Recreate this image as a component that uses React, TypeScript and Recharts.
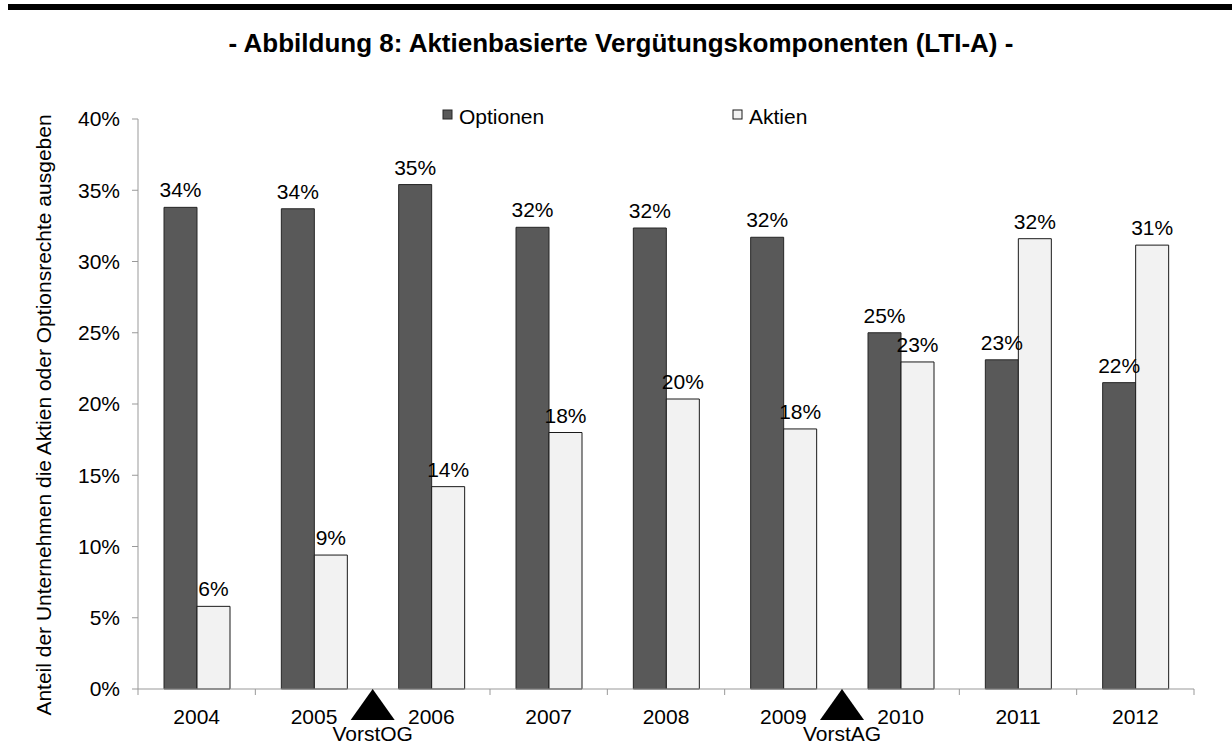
import React from "react";
import { BarChart, Bar, XAxis, YAxis, LabelList, Legend, Label } from "recharts";

// Anteil in %
const years = ["2004", "2005", "2006", "2007", "2008", "2009", "2010", "2011", "2012"];
const optionen = [33.8, 33.7, 35.4, 32.4, 32.35, 31.7, 25.0, 23.1, 21.5];
const aktien = [5.8, 9.4, 14.2, 18.0, 20.35, 18.25, 22.95, 31.6, 31.15];
const yTicks = [0, 5, 10, 15, 20, 25, 30, 35, 40];
// Gesetzesänderungen, jeweils vor dem genannten Jahr
const events = [
  { before: "2006", label: "VorstOG" },
  { before: "2010", label: "VorstAG" },
];

const series = [
  { key: "Optionen", fill: "#595959", stroke: "#262626" },
  { key: "Aktien", fill: "#f2f2f2", stroke: "#1a1a1a" },
];

const data = years.map((year, i) => ({ year, Optionen: optionen[i], Aktien: aktien[i] }));

const FONT = '"Liberation Sans", Arial, sans-serif';
const W = 1232;
const H = 756;
const PLOT_LEFT = 138;
const PLOT_RIGHT = 1194;
const BAND = (PLOT_RIGHT - PLOT_LEFT) / years.length;
const AXIS = "#999999";

function YearTick(props: any) {
  const { x, y, payload, index } = props;
  const left = x - BAND / 2;
  const ev = events.find((e) => e.before === payload.value);
  return (
    <g>
      <line x1={left} y1={y} x2={left} y2={y + 6} stroke={AXIS} />
      {index === years.length - 1 && (
        <line x1={x + BAND / 2} y1={y} x2={x + BAND / 2} y2={y + 6} stroke={AXIS} />
      )}
      <text x={x} y={y + 35} textAnchor="middle" fontSize={21} fill="#000" fontFamily={FONT}>
        {payload.value}
      </text>
      {ev && (
        <g>
          <polygon points={`${left},${y} ${left - 22},${y + 31} ${left + 22},${y + 31}`} fill="#000" />
          <text x={left} y={y + 52} textAnchor="middle" fontSize={21} fill="#000" fontFamily={FONT}>
            {ev.label}
          </text>
        </g>
      )}
    </g>
  );
}

function LegendBox() {
  const xs = [443, 733];
  return (
    <svg width={W} height={40} style={{ display: "block" }}>
      {series.map((s, i) => (
        <g key={s.key}>
          <rect x={xs[i]} y={11} width={9} height={9} fill={s.fill} stroke={s.stroke} />
          <text x={xs[i] + 16} y={25} fontSize={21} fill="#000" fontFamily={FONT}>
            {s.key}
          </text>
        </g>
      ))}
    </svg>
  );
}

function YTitle() {
  return (
    <text
      x={51}
      y={415}
      transform="rotate(-90, 51, 415)"
      textAnchor="middle"
      fontSize={21}
      fill="#000"
      fontFamily={FONT}
    >
      Anteil der Unternehmen die Aktien oder Optionsrechte ausgeben
    </text>
  );
}

export default function App() {
  return (
    <div style={{ position: "absolute", left: 0, top: 0, width: W, height: H, background: "#fff", fontFamily: FONT }}>
      <div style={{ position: "absolute", left: 8, top: 4, width: W - 8, height: 6, background: "#000" }} />
      <div
        style={{
          position: "absolute",
          left: 0,
          top: 28,
          width: 1242,
          textAlign: "center",
          fontSize: 26,
          lineHeight: "30px",
          fontWeight: "bold",
          color: "#000",
        }}
      >
        - Abbildung 8: Aktienbasierte Vergütungskomponenten (LTI-A) -
      </div>
      <BarChart
        width={W}
        height={H}
        data={data}
        margin={{ top: 119, right: W - PLOT_RIGHT, bottom: 0, left: 28 }}
        barGap={0}
        barSize={33}
      >
        <XAxis
          dataKey="year"
          height={67}
          interval={0}
          tickLine={false}
          tickSize={0}
          tickMargin={0}
          axisLine={{ stroke: AXIS }}
          tick={<YearTick />}
        />
        <YAxis
          width={110}
          domain={[0, 40]}
          ticks={yTicks}
          interval={0}
          tickFormatter={(v: number) => `${v}%`}
          tick={{ fontSize: 21, fill: "#000", fontFamily: FONT }}
          tickSize={6}
          tickMargin={12}
          axisLine={{ stroke: AXIS }}
          tickLine={{ stroke: AXIS }}
        >
          <Label content={<YTitle />} />
        </YAxis>
        <Legend
          layout="horizontal"
          verticalAlign="middle"
          align="center"
          wrapperStyle={{ top: 99, left: 0, width: W, height: 40 }}
          content={<LegendBox />}
        />
        {series.map((s) => (
          <Bar key={s.key} dataKey={s.key} fill={s.fill} stroke={s.stroke} strokeWidth={1} isAnimationActive={false}>
            <LabelList
              dataKey={s.key}
              position="top"
              offset={10}
              fontSize={21}
              fill="#000"
              fontFamily={FONT}
              formatter={(v: any) => `${Math.round(Number(v))}%`}
            />
          </Bar>
        ))}
      </BarChart>
    </div>
  );
}
